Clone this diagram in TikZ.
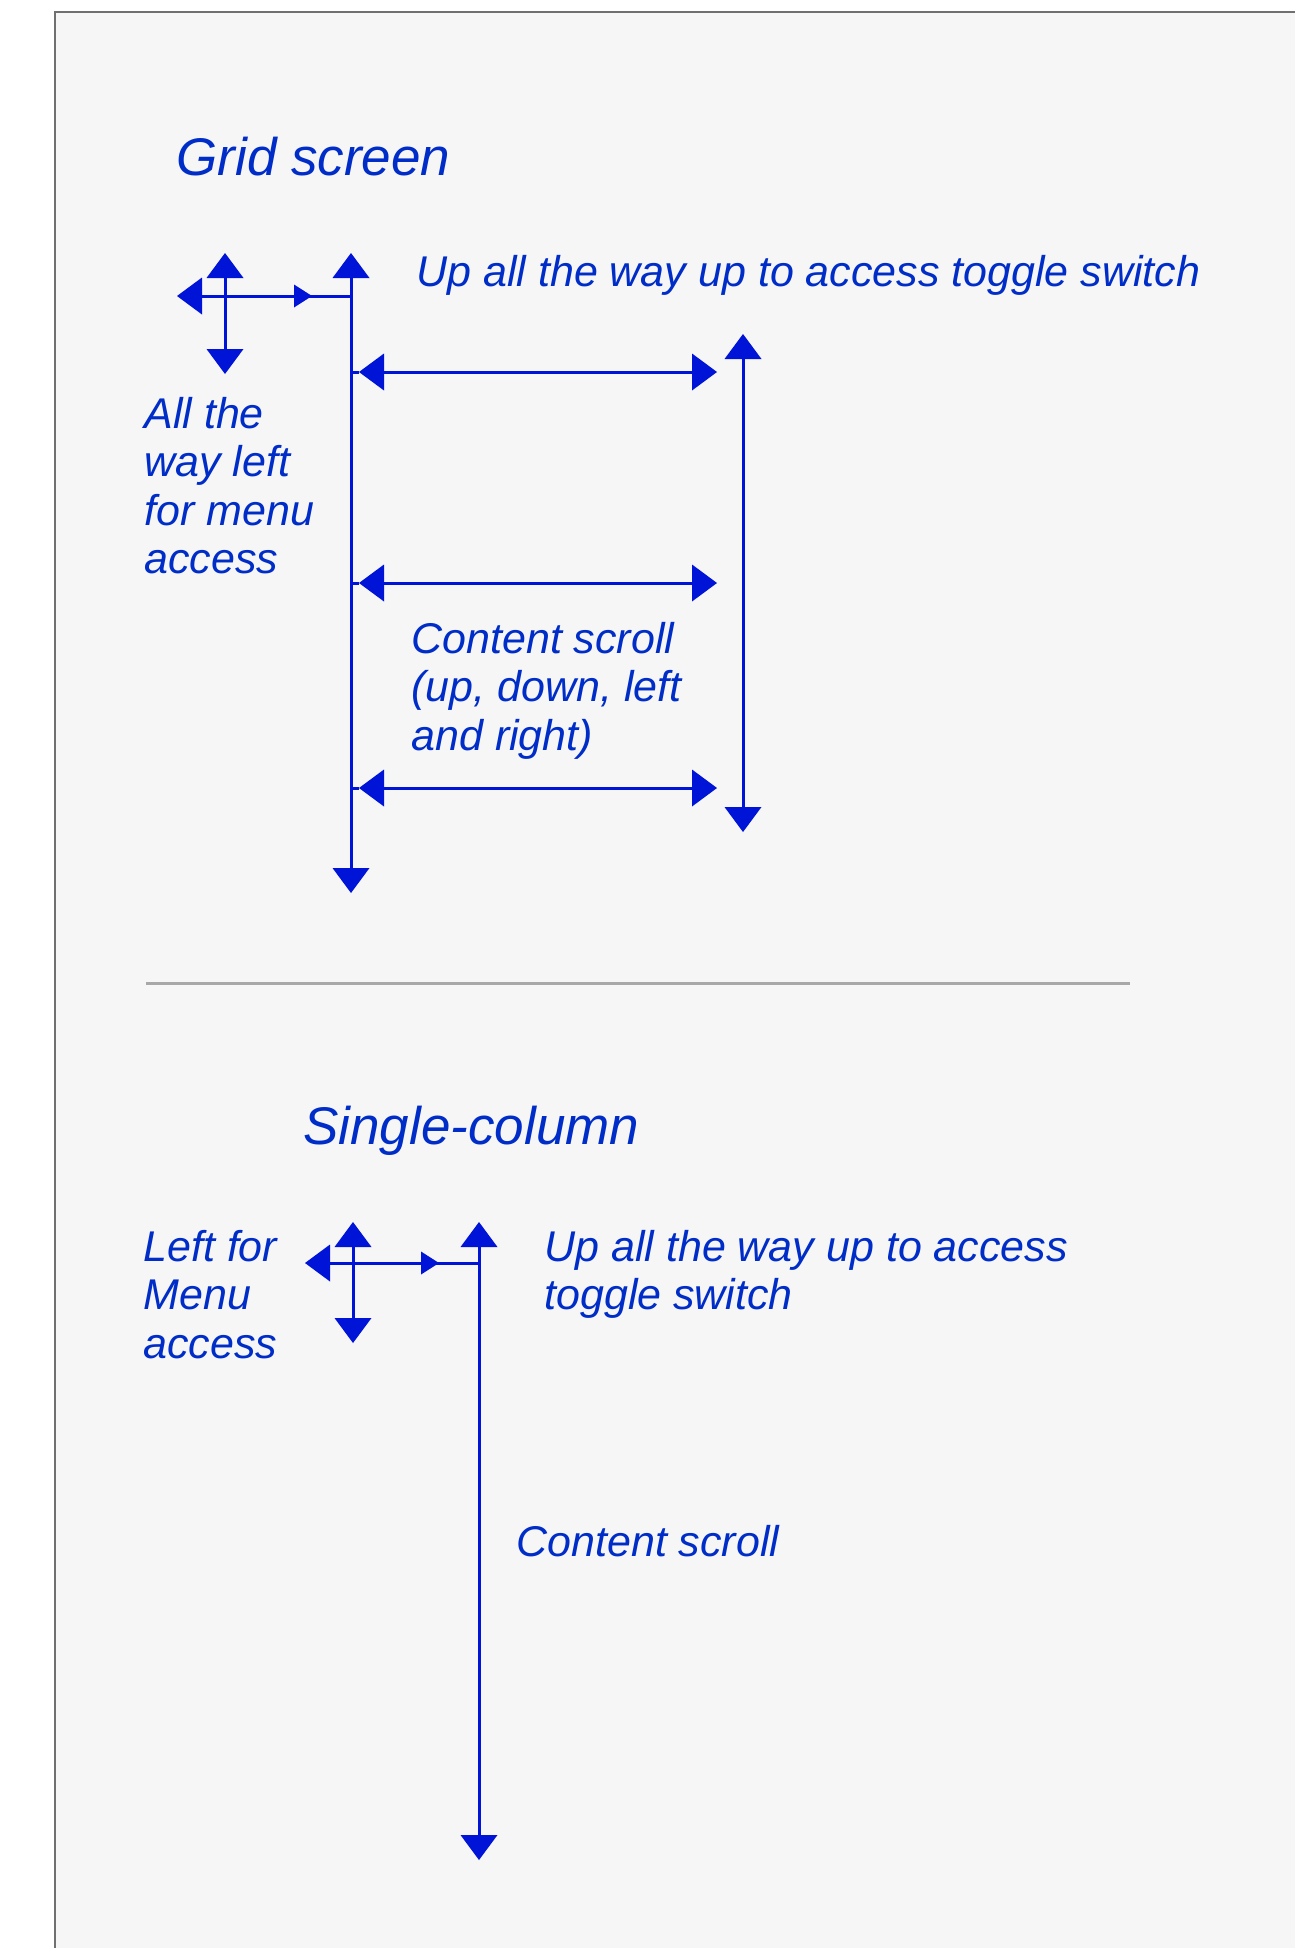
\documentclass[tikz,border=0pt]{standalone}
\usepackage{fontspec}
\setmainfont{Liberation Sans}
\usetikzlibrary{arrows.meta}
\definecolor{arrowblue}{RGB}{0,20,215}
\definecolor{labelblue}{RGB}{0,45,200}
\definecolor{panelgray}{RGB}{246,246,246}
\definecolor{framegray}{RGB}{112,112,112}
\definecolor{rulegray}{RGB}{168,168,168}
% first-row-aligned stack of left-aligned lines
\newcommand\stacklines[1]{\begin{tabular}[t]{@{}l@{}}#1\end{tabular}}
\tikzset{
  big/.tip={Triangle[length=12.5pt,width=18.5pt,line width=0pt]},
  small/.tip={Triangle[length=9pt,width=11.5pt,line width=0pt]},
  flow/.style={draw=arrowblue, fill=arrowblue, line width=1.5pt},
  caption/.style={text=labelblue, inner sep=0pt, anchor=base west,
    font=\itshape\fontsize{21.5}{24.25}\selectfont},
  heading/.style={text=labelblue, inner sep=0pt, anchor=base west,
    font=\itshape\fontsize{26.5}{30}\selectfont},
}
\begin{document}
\begin{tikzpicture}[x=0.5pt,y=-0.5pt]
\useasboundingbox (0,0) rectangle (1295,1948);
\fill[white] (0,0) rectangle (1295,1948);
% panel
\fill[panelgray] (55,12) rectangle (1300,1955);
\draw[framegray, line width=1.4pt] (55,1960) -- (55,12) -- (1300,12);
% divider between the two layouts
\draw[rulegray, line width=1.5pt] (146,983) -- (1130,983);

% ---------- Grid screen ----------
\node[heading] (gtitle) at (176,176) {Grid screen};

\coordinate (gU) at (351,253);
\coordinate (gD) at (351,893);
\coordinate (rU) at (743,334);
\coordinate (rD) at (743,832);
\coordinate (h1L) at (359,372);
\coordinate (h1R) at (717,372);
\coordinate (h2L) at (359,583);
\coordinate (h2R) at (717,583);
\coordinate (h3L) at (359,788);
\coordinate (h3R) at (717,788);
\coordinate (cU) at (225,253);
\coordinate (cD) at (225,374);
\coordinate (cL) at (177,296);
\coordinate (cJ) at (351,296);
\coordinate (cMb) at (294,296);
\coordinate (cM) at (312,296);

\draw[flow, {big}-{big}] (gU) -- (gD);
\draw[flow, {big}-{big}] (rU) -- (rD);
\draw[flow] (gU |- h1L) -- (h1L);
\draw[flow, {big}-{big}] (h1L) -- (h1R);
\draw[flow] (gU |- h2L) -- (h2L);
\draw[flow, {big}-{big}] (h2L) -- (h2R);
\draw[flow] (gU |- h3L) -- (h3L);
\draw[flow, {big}-{big}] (h3L) -- (h3R);
\draw[flow, {big}-{big}] (cU) -- (cD);
\draw[flow, {big}-] (cL) -- (cJ);
\draw[flow, -{small}] (cMb) -- (cM);

\node[caption] (gtoggle) at (416,286) {Up all the way up to access toggle switch};
\node[caption] (gmenu) at (144,428) {\stacklines{All the\\way left\\for menu\\access}};
\node[caption] (gscroll) at (411,653) {\stacklines{Content scroll\\(up, down, left\\and right)}};

% ---------- Single-column ----------
\node[heading] (stitle) at (303,1144) {Single-column};

\coordinate (sU) at (479,1222);
\coordinate (sD) at (479,1860);
\coordinate (dU) at (353,1222);
\coordinate (dD) at (353,1343);
\coordinate (dL) at (305,1263);
\coordinate (dJ) at (479,1263);
\coordinate (dMb) at (421,1263);
\coordinate (dM) at (439,1263);

\draw[flow, {big}-{big}] (sU) -- (sD);
\draw[flow, {big}-{big}] (dU) -- (dD);
\draw[flow, {big}-] (dL) -- (dJ);
\draw[flow, -{small}] (dMb) -- (dM);

\node[caption] (smenu) at (143,1261) {\stacklines{Left for\\Menu\\access}};
\node[caption] (stoggle) at (544,1261) {\stacklines{Up all the way up to access\\toggle switch}};
\node[caption] (sscroll) at (516,1556) {Content scroll};
\end{tikzpicture}
\end{document}
